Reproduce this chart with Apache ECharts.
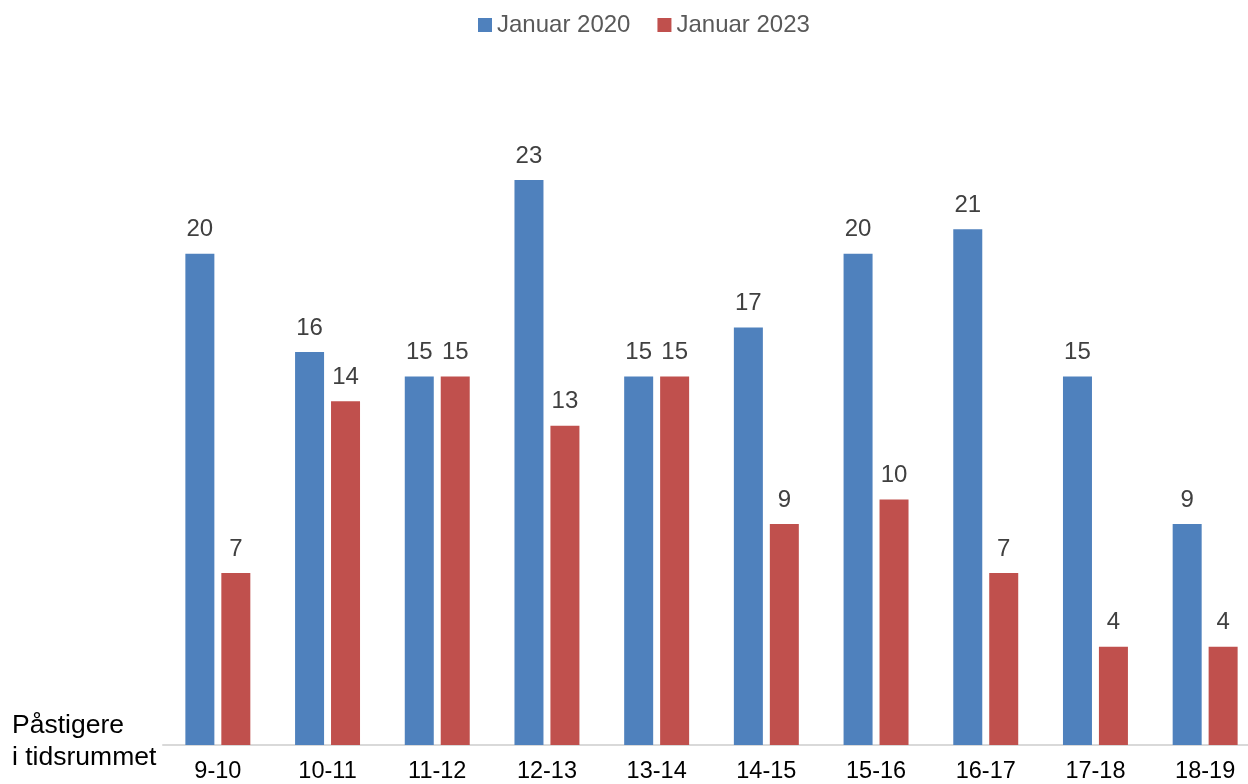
<!DOCTYPE html>
<html><head><meta charset="utf-8">
<script src="https://cdn.jsdelivr.net/npm/echarts@6/dist/echarts.min.js"></script>
<style>html,body{margin:0;padding:0;background:#fff;overflow:hidden;width:1248px;height:784px}#c{width:1260px;height:784px}</style>
</head><body><div id="c"></div>
<script>
var categories = ['9-10','10-11','11-12','12-13','13-14','14-15','15-16','16-17','17-18','18-19'];
var seriesNames = ['Januar 2020','Januar 2023'];
var jan2020 = [20,16,15,23,15,17,20,21,15,9];
var jan2023 = [7,14,15,13,15,9,10,7,4,4];
var axisTitle = ['Påstigere','i tidsrummet'];

var chart = echarts.init(document.getElementById('c'));
var font = 'Liberation Sans, Arial, sans-serif';
var lbl = {show:true, position:'top', distance:12, color:'#404040', fontSize:24, fontFamily:font};
chart.setOption({
  animation:false,
  textStyle:{fontFamily:font},
  color:['#4F81BD','#C0504D'],
  legend:{top:8, left:473, itemWidth:14, itemHeight:14, itemGap:27, itemStyle:{borderWidth:0},
    icon:'rect', textStyle:{fontSize:24, color:'#595959', fontFamily:font},
    data:seriesNames},
  grid:{left:163, right:0, top:131, bottom:38, containLabel:false},
  xAxis:{type:'category', data:categories,
    axisLine:{lineStyle:{color:'#D9D9D9', width:2}},
    axisTick:{show:false},
    axisLabel:{color:'#000', fontSize:23.5, fontFamily:font, margin:15}},
  yAxis:{type:'value', min:0, max:25, show:false, splitLine:{show:false}},
  graphic:[{type:'text', left:12, top:710, style:{text:axisTitle.join('\n'), fontSize:26.5, lineHeight:32, fill:'#000', font:'26.5px Liberation Sans, Arial, sans-serif'}}],
  series:[
    {name:seriesNames[0], type:'bar', data:jan2020, barWidth:29, barGap:'24%', label:lbl},
    {name:seriesNames[1], type:'bar', data:jan2023, barWidth:29, barGap:'24%', label:lbl}
  ]
});
</script></body></html>
